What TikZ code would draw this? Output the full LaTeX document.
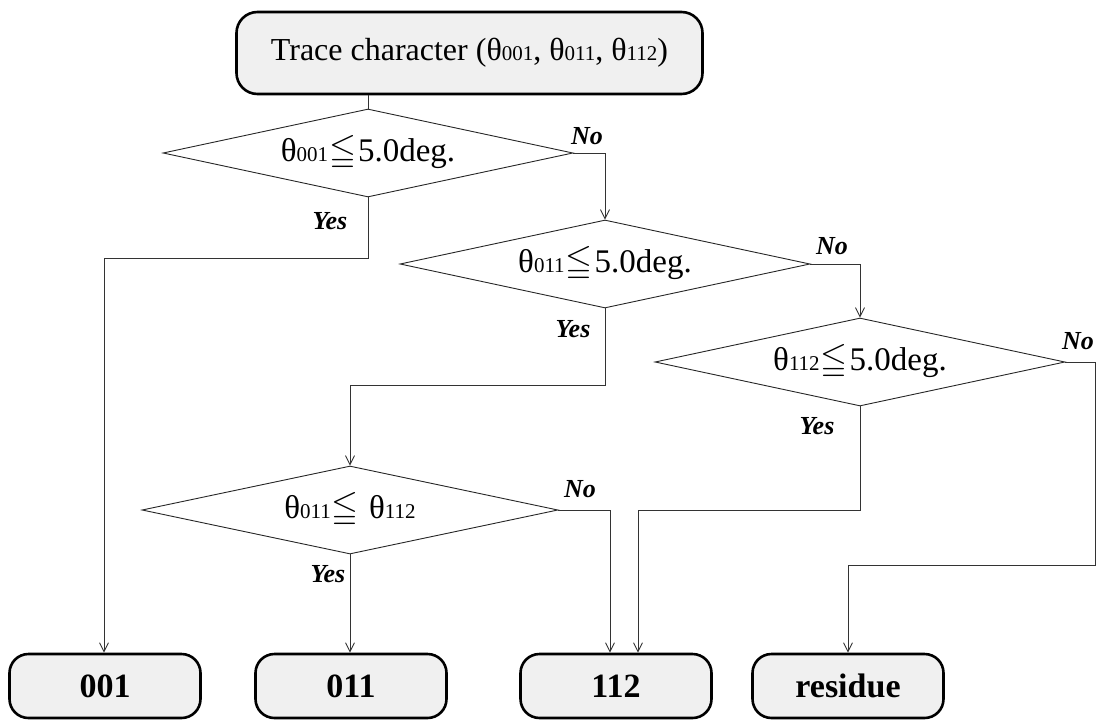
\documentclass[tikz,border=0pt]{standalone}
\usepackage{amssymb}
\usepackage{fontspec}
\setmainfont{Liberation Serif}
\usetikzlibrary{shapes.geometric,arrows.meta}

% subscript-like small digits sitting on the baseline
\newcommand{\idx}[1]{{\fontsize{21}{21}\selectfont #1}}
% less-than over double bar
\newcommand{\lesseqq}{\kern1pt\scalebox{1.05}{$\leqq$}\kern2pt}

\begin{document}
\begin{tikzpicture}[x=1pt,y=-1pt,
  term/.style={draw=black, line width=2.6pt, fill=black!6, rounded corners=19pt,
    minimum height=64pt, minimum width=191pt, inner sep=0pt,
    font=\fontsize{34}{34}\selectfont\bfseries},
  start/.style={term, minimum width=466pt, minimum height=82pt, rounded corners=21pt,
    font=\fontsize{32}{32}\selectfont},
  decision/.style={diamond, draw=black!85, line width=0.9pt, aspect=4.7, inner sep=0pt,
    minimum width=410pt, minimum height=88pt, font=\fontsize{33}{33}\selectfont},
  flow/.style={draw=black!80, line width=0.9pt},
  arr/.style={flow, -{Straight Barb[length=9pt,width=9pt,line width=0.9pt]}},
  lbl/.style={font=\fontsize{26}{26}\selectfont\bfseries\itshape, inner sep=0pt}
]
\useasboundingbox (0,0) rectangle (1099,722);

% start box
\node[start] (top) at (469.5,53) {Trace character (θ\idx{001}, θ\idx{011}, θ\idx{112})};

% decisions
\node[decision] (d1) at (368,153) {θ\idx{001}\lesseqq5.0deg.};
\node[decision] (d2) at (605,264) {θ\idx{011}\lesseqq5.0deg.};
\node[decision] (d3) at (860,362) {θ\idx{112}\lesseqq5.0deg.};
\node[decision, minimum width=416pt] (d4) at (350,510) {θ\idx{011}\lesseqq\ θ\idx{112}};

% outcomes
\node[term] (r001) at (105,686) {001};
\node[term] (r011) at (351,686) {011};
\node[term] (r112) at (616,686) {112};
\node[term] (rres) at (848,686) {residue};

% helper points
\coordinate (y1) at (104,258);
\coordinate (y2) at (350,385);
\coordinate (y3) at (638,510);
\coordinate (n3) at (1095,565);
\coordinate (n3b) at (848,565);
\coordinate (n4) at (610,510);

% connectors
\draw[flow] (d1.north |- top.south) -- (d1.north);
\draw[arr] (d1.east) -| (d2.north);
\draw[arr] (d1.south) |- (y1) -- (r001.north -| y1);
\draw[arr] (d2.east) -| (d3.north);
\draw[arr] (d2.south) |- (y2) -- (d4.north);
\draw[arr] (d3.east) -| (n3) -- (n3b) -- (rres.north);
\draw[arr] (d3.south) |- (y3) -- (r112.north -| y3);
\draw[arr] (d4.east) -| (n4) -- (r112.north -| n4);
\draw[arr] (d4.south) -- (r011.north -| d4.south);

% branch labels
\node[lbl] (no1) at (587,136) {No};
\node[lbl] (ye1) at (330,221) {Yes};
\node[lbl] (no2) at (832,246) {No};
\node[lbl] (ye2) at (573,329) {Yes};
\node[lbl] (no3) at (1078,341) {No};
\node[lbl] (ye3) at (817,426) {Yes};
\node[lbl] (no4) at (580,489) {No};
\node[lbl] (ye4) at (328,574) {Yes};
\end{tikzpicture}
\end{document}
